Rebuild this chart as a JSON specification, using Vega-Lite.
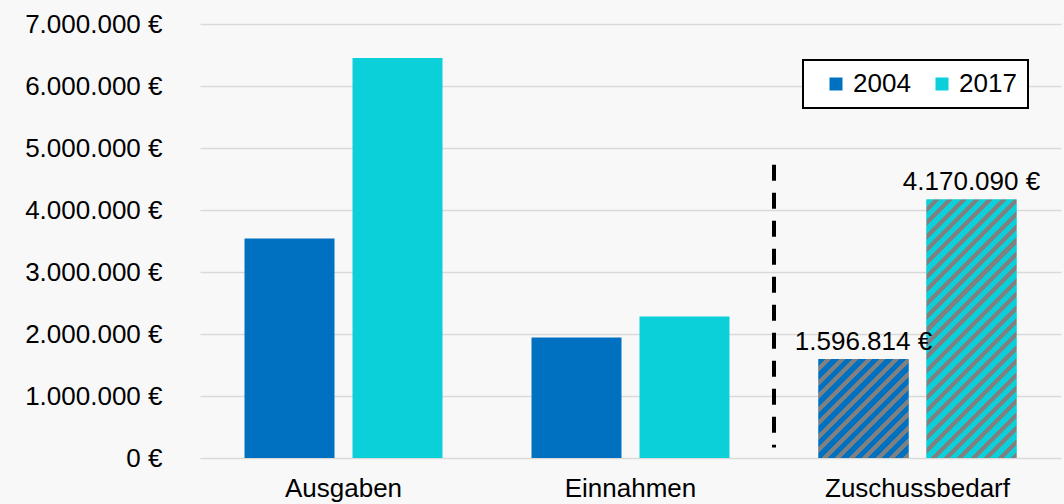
{
  "$schema": "https://vega.github.io/schema/vega-lite/v6.json",
  "width": 861,
  "height": 434,
  "autosize": {"type": "none"},
  "padding": {"left": 200, "top": 24, "right": 3, "bottom": 46},
  "background": "#f8f8f8",
  "config": {
    "locale": {"number": {"decimal": ",", "thousands": ".", "grouping": [3], "currency": ["", " €"]}},
    "view": {"stroke": null},
    "font": "Liberation Sans"
  },
  "data": {
    "values": [
      {"kategorie": "Ausgaben", "jahr": "2004", "betrag": 3539000},
      {"kategorie": "Ausgaben", "jahr": "2017", "betrag": 6452000},
      {"kategorie": "Einnahmen", "jahr": "2004", "betrag": 1942000},
      {"kategorie": "Einnahmen", "jahr": "2017", "betrag": 2282000},
      {"kategorie": "Zuschussbedarf", "jahr": "2004", "betrag": 1596814},
      {"kategorie": "Zuschussbedarf", "jahr": "2017", "betrag": 4170090}
    ]
  },
  "layer": [
    {
      "mark": {"type": "bar"},
      "encoding": {
        "x": {
          "field": "kategorie", "type": "nominal",
          "scale": {"domain": ["Ausgaben", "Einnahmen", "Zuschussbedarf"], "paddingInner": 0, "paddingOuter": 0},
          "axis": {"title": null, "labelAngle": 0, "labelFontSize": 26, "labelColor": "black", "labelPadding": 17, "labelLimit": 0, "ticks": false, "domain": false, "grid": false}
        },
        "xOffset": {"field": "jahr", "type": "nominal", "scale": {"domain": ["2004", "2017"], "paddingInner": 0.1667, "paddingOuter": 0.412}},
        "y": {
          "field": "betrag", "type": "quantitative",
          "scale": {"domain": [0, 7000000], "nice": false},
          "axis": {"title": null, "values": [0, 1000000, 2000000, 3000000, 4000000, 5000000, 6000000, 7000000], "format": "$,.0f", "labelFontSize": 26, "labelColor": "black", "labelPadding": 38, "ticks": false, "domain": false, "grid": true, "gridColor": "#d9d9d9", "gridWidth": 1.5}
        },
        "color": {
          "field": "jahr", "type": "nominal",
          "scale": {"domain": ["2004", "2017"], "range": ["#0070C0", "#0BCFD9"]},
          "legend": {"title": null, "orient": "none", "legendX": 603, "legendY": 36, "direction": "horizontal", "symbolType": "square", "symbolSize": 169, "symbolStrokeWidth": 0, "symbolOpacity": 1, "labelFontSize": 26, "labelColor": "black", "labelOffset": 4, "symbolOffset": 9, "columnPadding": 9, "padding": 11, "strokeColor": "black", "fillColor": "white",
            "encode": {"legend": {"update": {"strokeWidth": {"value": 2}}}}}
        }
      }
    },
    {
      "transform": [{"filter": "datum.kategorie === 'Zuschussbedarf' && datum.jahr === '2004'"}],
      "mark": {
        "type": "bar",
        "fill": {
          "gradient": "linear", "x1": 0, "y1": 0, "x2": 0.95023, "y2": 1.04525,
          "stops": [
            {"offset": 0, "color": "#0070C0"}, {"offset": 0.039286, "color": "#0070C0"}, {"offset": 0.039286, "color": "#808080"}, {"offset": 0.071429, "color": "#808080"},
            {"offset": 0.071429, "color": "#0070C0"}, {"offset": 0.110714, "color": "#0070C0"}, {"offset": 0.110714, "color": "#808080"}, {"offset": 0.142857, "color": "#808080"},
            {"offset": 0.142857, "color": "#0070C0"}, {"offset": 0.182143, "color": "#0070C0"}, {"offset": 0.182143, "color": "#808080"}, {"offset": 0.214286, "color": "#808080"},
            {"offset": 0.214286, "color": "#0070C0"}, {"offset": 0.253571, "color": "#0070C0"}, {"offset": 0.253571, "color": "#808080"}, {"offset": 0.285714, "color": "#808080"},
            {"offset": 0.285714, "color": "#0070C0"}, {"offset": 0.325, "color": "#0070C0"}, {"offset": 0.325, "color": "#808080"}, {"offset": 0.357143, "color": "#808080"},
            {"offset": 0.357143, "color": "#0070C0"}, {"offset": 0.396429, "color": "#0070C0"}, {"offset": 0.396429, "color": "#808080"}, {"offset": 0.428571, "color": "#808080"},
            {"offset": 0.428571, "color": "#0070C0"}, {"offset": 0.467857, "color": "#0070C0"}, {"offset": 0.467857, "color": "#808080"}, {"offset": 0.5, "color": "#808080"},
            {"offset": 0.5, "color": "#0070C0"}, {"offset": 0.539286, "color": "#0070C0"}, {"offset": 0.539286, "color": "#808080"}, {"offset": 0.571429, "color": "#808080"},
            {"offset": 0.571429, "color": "#0070C0"}, {"offset": 0.610714, "color": "#0070C0"}, {"offset": 0.610714, "color": "#808080"}, {"offset": 0.642857, "color": "#808080"},
            {"offset": 0.642857, "color": "#0070C0"}, {"offset": 0.682143, "color": "#0070C0"}, {"offset": 0.682143, "color": "#808080"}, {"offset": 0.714286, "color": "#808080"},
            {"offset": 0.714286, "color": "#0070C0"}, {"offset": 0.753571, "color": "#0070C0"}, {"offset": 0.753571, "color": "#808080"}, {"offset": 0.785714, "color": "#808080"},
            {"offset": 0.785714, "color": "#0070C0"}, {"offset": 0.825, "color": "#0070C0"}, {"offset": 0.825, "color": "#808080"}, {"offset": 0.857143, "color": "#808080"},
            {"offset": 0.857143, "color": "#0070C0"}, {"offset": 0.896429, "color": "#0070C0"}, {"offset": 0.896429, "color": "#808080"}, {"offset": 0.928571, "color": "#808080"},
            {"offset": 0.928571, "color": "#0070C0"}, {"offset": 0.967857, "color": "#0070C0"}, {"offset": 0.967857, "color": "#808080"}, {"offset": 1, "color": "#808080"}
          ]
        }
      },
      "encoding": {
        "x": {"field": "kategorie", "type": "nominal"},
        "xOffset": {"field": "jahr", "type": "nominal"},
        "y": {"field": "betrag", "type": "quantitative"}
      }
    },
    {
      "transform": [{"filter": "datum.kategorie === 'Zuschussbedarf' && datum.jahr === '2017'"}],
      "mark": {
        "type": "bar",
        "fill": {
          "gradient": "linear", "x1": 0, "y1": 0, "x2": 0.41855, "y2": 1.20242,
          "stops": [
            {"offset": 0, "color": "#0BCFD9"}, {"offset": 0.021154, "color": "#0BCFD9"}, {"offset": 0.021154, "color": "#808080"}, {"offset": 0.038462, "color": "#808080"},
            {"offset": 0.038462, "color": "#0BCFD9"}, {"offset": 0.059615, "color": "#0BCFD9"}, {"offset": 0.059615, "color": "#808080"}, {"offset": 0.076923, "color": "#808080"},
            {"offset": 0.076923, "color": "#0BCFD9"}, {"offset": 0.098077, "color": "#0BCFD9"}, {"offset": 0.098077, "color": "#808080"}, {"offset": 0.115385, "color": "#808080"},
            {"offset": 0.115385, "color": "#0BCFD9"}, {"offset": 0.136538, "color": "#0BCFD9"}, {"offset": 0.136538, "color": "#808080"}, {"offset": 0.153846, "color": "#808080"},
            {"offset": 0.153846, "color": "#0BCFD9"}, {"offset": 0.175, "color": "#0BCFD9"}, {"offset": 0.175, "color": "#808080"}, {"offset": 0.192308, "color": "#808080"},
            {"offset": 0.192308, "color": "#0BCFD9"}, {"offset": 0.213462, "color": "#0BCFD9"}, {"offset": 0.213462, "color": "#808080"}, {"offset": 0.230769, "color": "#808080"},
            {"offset": 0.230769, "color": "#0BCFD9"}, {"offset": 0.251923, "color": "#0BCFD9"}, {"offset": 0.251923, "color": "#808080"}, {"offset": 0.269231, "color": "#808080"},
            {"offset": 0.269231, "color": "#0BCFD9"}, {"offset": 0.290385, "color": "#0BCFD9"}, {"offset": 0.290385, "color": "#808080"}, {"offset": 0.307692, "color": "#808080"},
            {"offset": 0.307692, "color": "#0BCFD9"}, {"offset": 0.328846, "color": "#0BCFD9"}, {"offset": 0.328846, "color": "#808080"}, {"offset": 0.346154, "color": "#808080"},
            {"offset": 0.346154, "color": "#0BCFD9"}, {"offset": 0.367308, "color": "#0BCFD9"}, {"offset": 0.367308, "color": "#808080"}, {"offset": 0.384615, "color": "#808080"},
            {"offset": 0.384615, "color": "#0BCFD9"}, {"offset": 0.405769, "color": "#0BCFD9"}, {"offset": 0.405769, "color": "#808080"}, {"offset": 0.423077, "color": "#808080"},
            {"offset": 0.423077, "color": "#0BCFD9"}, {"offset": 0.444231, "color": "#0BCFD9"}, {"offset": 0.444231, "color": "#808080"}, {"offset": 0.461538, "color": "#808080"},
            {"offset": 0.461538, "color": "#0BCFD9"}, {"offset": 0.482692, "color": "#0BCFD9"}, {"offset": 0.482692, "color": "#808080"}, {"offset": 0.5, "color": "#808080"},
            {"offset": 0.5, "color": "#0BCFD9"}, {"offset": 0.521154, "color": "#0BCFD9"}, {"offset": 0.521154, "color": "#808080"}, {"offset": 0.538462, "color": "#808080"},
            {"offset": 0.538462, "color": "#0BCFD9"}, {"offset": 0.559615, "color": "#0BCFD9"}, {"offset": 0.559615, "color": "#808080"}, {"offset": 0.576923, "color": "#808080"},
            {"offset": 0.576923, "color": "#0BCFD9"}, {"offset": 0.598077, "color": "#0BCFD9"}, {"offset": 0.598077, "color": "#808080"}, {"offset": 0.615385, "color": "#808080"},
            {"offset": 0.615385, "color": "#0BCFD9"}, {"offset": 0.636538, "color": "#0BCFD9"}, {"offset": 0.636538, "color": "#808080"}, {"offset": 0.653846, "color": "#808080"},
            {"offset": 0.653846, "color": "#0BCFD9"}, {"offset": 0.675, "color": "#0BCFD9"}, {"offset": 0.675, "color": "#808080"}, {"offset": 0.692308, "color": "#808080"},
            {"offset": 0.692308, "color": "#0BCFD9"}, {"offset": 0.713462, "color": "#0BCFD9"}, {"offset": 0.713462, "color": "#808080"}, {"offset": 0.730769, "color": "#808080"},
            {"offset": 0.730769, "color": "#0BCFD9"}, {"offset": 0.751923, "color": "#0BCFD9"}, {"offset": 0.751923, "color": "#808080"}, {"offset": 0.769231, "color": "#808080"},
            {"offset": 0.769231, "color": "#0BCFD9"}, {"offset": 0.790385, "color": "#0BCFD9"}, {"offset": 0.790385, "color": "#808080"}, {"offset": 0.807692, "color": "#808080"},
            {"offset": 0.807692, "color": "#0BCFD9"}, {"offset": 0.828846, "color": "#0BCFD9"}, {"offset": 0.828846, "color": "#808080"}, {"offset": 0.846154, "color": "#808080"},
            {"offset": 0.846154, "color": "#0BCFD9"}, {"offset": 0.867308, "color": "#0BCFD9"}, {"offset": 0.867308, "color": "#808080"}, {"offset": 0.884615, "color": "#808080"},
            {"offset": 0.884615, "color": "#0BCFD9"}, {"offset": 0.905769, "color": "#0BCFD9"}, {"offset": 0.905769, "color": "#808080"}, {"offset": 0.923077, "color": "#808080"},
            {"offset": 0.923077, "color": "#0BCFD9"}, {"offset": 0.944231, "color": "#0BCFD9"}, {"offset": 0.944231, "color": "#808080"}, {"offset": 0.961538, "color": "#808080"},
            {"offset": 0.961538, "color": "#0BCFD9"}, {"offset": 0.982692, "color": "#0BCFD9"}, {"offset": 0.982692, "color": "#808080"}, {"offset": 1, "color": "#808080"}
          ]
        }
      },
      "encoding": {
        "x": {"field": "kategorie", "type": "nominal"},
        "xOffset": {"field": "jahr", "type": "nominal"},
        "y": {"field": "betrag", "type": "quantitative"}
      }
    },
    {
      "transform": [{"filter": "datum.kategorie === 'Zuschussbedarf'"}],
      "mark": {"type": "text", "baseline": "alphabetic", "dy": -9, "fontSize": 26, "color": "black"},
      "encoding": {
        "x": {"field": "kategorie", "type": "nominal"},
        "xOffset": {"field": "jahr", "type": "nominal"},
        "y": {"field": "betrag", "type": "quantitative"},
        "text": {"field": "betrag", "type": "quantitative", "format": "$,.0f"}
      }
    },
    {
      "data": {"values": [{"kategorie": "Zuschussbedarf", "betrag": 4730000, "bis": 170000}]},
      "mark": {"type": "rule", "strokeDash": [16, 12], "strokeWidth": 4, "color": "black"},
      "encoding": {
        "x": {"field": "kategorie", "type": "nominal", "bandPosition": 0},
        "y": {"field": "betrag", "type": "quantitative"},
        "y2": {"field": "bis"}
      }
    }
  ]
}
